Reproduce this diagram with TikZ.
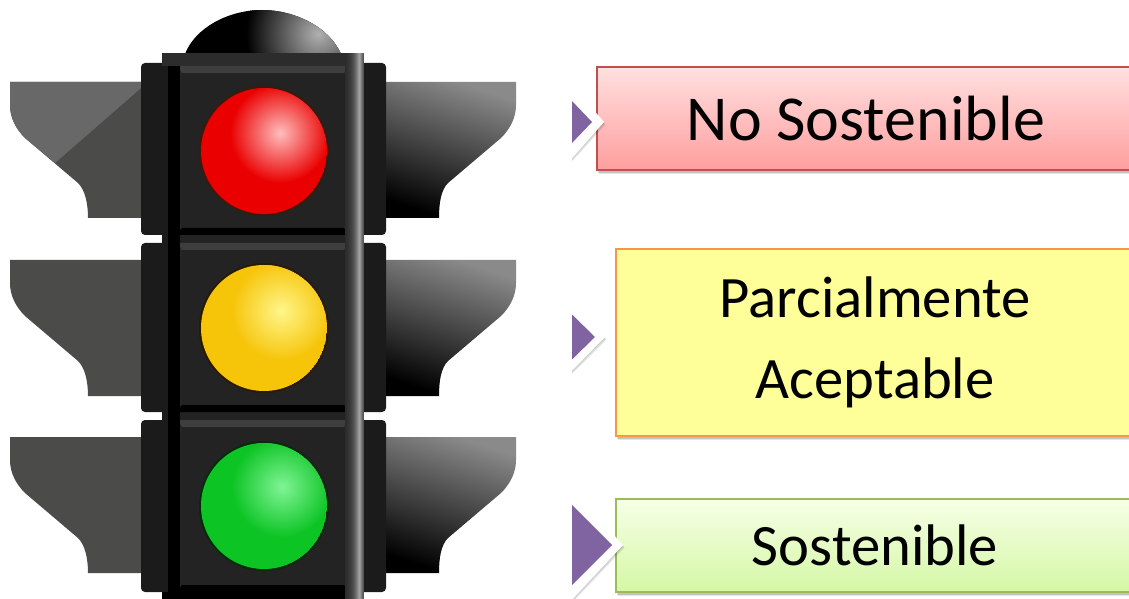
\documentclass[tikz,border=0pt]{standalone}
\usepackage{fontspec}
\setmainfont{Carlito}
\usetikzlibrary{shadows}
\definecolor{bodyc}{HTML}{232323}
\definecolor{barc}{HTML}{1B1B1B}
\definecolor{visorL}{HTML}{4B4B4A}
\definecolor{visorH}{HTML}{686868}
\definecolor{chev}{HTML}{8064A2}
\definecolor{C0504D}{HTML}{C0504D}
\definecolor{FFE0E0}{HTML}{FFE0E0}
\definecolor{FF9E9E}{HTML}{FF9E9E}
\definecolor{F79646}{HTML}{F79646}
\definecolor{FFFF99}{HTML}{FFFF99}
\definecolor{BBE59}{HTML}{9BBB59}
\definecolor{F6FFE6}{HTML}{F6FFE6}
\definecolor{D5F7A6}{HTML}{D5F7A6}
\definecolor{visorT}{HTML}{8A8A8A}
\definecolor{visorM}{HTML}{2C2C2C}
\tikzset{
  x=.75pt,y=-.75pt,
  softshadow/.style={
    drop shadow={shadow xshift=.6pt,shadow yshift=-1pt,opacity=.2,fill=black},
    drop shadow={shadow xshift=1.1pt,shadow yshift=-2pt,opacity=.15,fill=black},
    drop shadow={shadow xshift=1.6pt,shadow yshift=-3.2pt,opacity=.1,fill=black}},
  labelbox/.style={draw,line width=1.3pt,align=center,inner sep=0pt,softshadow},
  bigtext/.style={font=\fontsize{48}{60.75}\selectfont},
  smalltext/.style={font=\fontsize{44}{60.75}\selectfont},
  redbox/.style={labelbox,bigtext,draw=C0504D,top color=FFE0E0,bottom color=FF9E9E},
  yellowbox/.style={labelbox,smalltext,draw=F79646,fill=FFFF99},
  greenbox/.style={labelbox,smalltext,draw=BBE59,top color=F6FFE6,bottom color=D5F7A6},
  chevhalo/.style={fill=white},
  chevshade/.style={fill=black,opacity=.07},
  chevtri/.style={fill=chev},
  sidebar/.style={fill=barc,rounded corners=3pt},
}
\newcommand{\visorshapeL}[1]{(141,#1+82) -- (10,#1+82) -- (10,#1+105)
    .. controls (10,#1+118) and (16,#1+129) .. (25,#1+138)
    -- (78,#1+183) .. controls (85,#1+190) and (88,#1+203) .. (88,#1+218)
    -- (141,#1+218) -- cycle}
\newcommand{\visorshapeR}[1]{(386,#1+82) -- (516,#1+82) -- (516,#1+105)
    .. controls (516,#1+118) and (510,#1+129) .. (501,#1+138)
    -- (448,#1+183) .. controls (441,#1+190) and (439,#1+203) .. (439,#1+218)
    -- (386,#1+218) -- cycle}
\newcommand{\visorR}[1]{%
  \shade[top color=visorT,middle color=visorM,bottom color=black,shading angle=-18]
    \visorshapeR{#1};
}
\newcommand{\panel}[2]{% top, bottom
  \fill[black!85] (178,#1) rectangle (348,#2);
  \fill[bodyc] (182,#1+7) rectangle (345,#2-7);
  \fill[bevelc] (178,#1) -- (348,#1) -- (344,#1+7) -- (182,#1+7) -- cycle;
  \fill[black] (182,#2-7) -- (344,#2-7) -- (350,#2) -- (176,#2) -- cycle;
  \fill[black] (168,#1) rectangle (180,#2+8);
  \fill[barc] (162,#1) rectangle (168,#2+8);
}
\newcommand{\lamp}[7]{% cx cy base edge hi hx hy
  \fill[#4] (#1,#2) circle [radius=65];
  \begin{scope}
    \clip (#1,#2) circle [radius=63];
    \fill[#3] (#1,#2) circle [radius=63];
    \shade[inner color=#5,outer color=#3] (#6,#7) circle [radius=50];
  \end{scope}
}
\begin{document}
\begin{tikzpicture}
\definecolor{rb}{HTML}{EA0000}\definecolor{re}{HTML}{3A1A0A}\definecolor{rh}{HTML}{FFBDBD}
\definecolor{yb}{HTML}{F6C408}\definecolor{ye}{HTML}{2A1A00}\definecolor{yh}{HTML}{FFF68A}
\definecolor{gb}{HTML}{0DC425}\definecolor{ge}{HTML}{062A0A}\definecolor{gh}{HTML}{80F496}
\definecolor{stripa}{HTML}{2C2C2C}\definecolor{stripb}{HTML}{A0A0A0}\definecolor{stripc}{HTML}{555555}
\definecolor{bevelc}{HTML}{3E3E3E}\definecolor{domeh}{HTML}{B0B0B0}
\useasboundingbox (0,0) rectangle (1129,599);
\clip (0,0) rectangle (1129,599);
\fill[white] (0,0) rectangle (1129,599);

% visors
\fill[visorL] \visorshapeL{0};
\fill[visorH] (10,82) -- (141,82) -- (141,88) -- (55,163) -- (25,138)
   .. controls (16,129) and (10,118) .. (10,105) -- cycle;
\fill[visorL] \visorshapeL{178};
\fill[visorL] \visorshapeL{355};
\visorR{0}
\visorR{178}
\visorR{355}

% dome
\begin{scope}
  \clip (185,54) .. controls (195,28) and (228,10) .. (262,10) .. controls (296,10) and (330,28) .. (341,54) -- cycle;
  \fill[black] (180,5) rectangle (345,56);
  \shade[inner color=domeh,outer color=black] (318,34) circle [radius=72];
\end{scope}

% side bars
\fill[sidebar] (141,63) rectangle (170,235);
\fill[sidebar] (141,243) rectangle (170,412);
\fill[sidebar] (141,420) rectangle (170,592);
\fill[sidebar] (355,63) rectangle (386,235);
\fill[sidebar] (355,243) rectangle (386,412);
\fill[sidebar] (355,420) rectangle (386,592);

% column
\fill[bodyc] (162,53) rectangle (364,599);
\fill[stripa] (162,53) rectangle (364,66);
\panel{66}{235}
\panel{243}{412}
\panel{420}{592}
\fill[black] (162,592) rectangle (348,599);
\foreach \xx/\pp in {345/0,346/2,347/4,348/7,349/10,350/14,351/19,352/25,353/32,354/40,355/50,356/62,357/76,358/90,359/100,360/90,361/70,362/50,363/35}{
  \fill[stripb!\pp!stripa] (\xx,53) rectangle (\xx+1.2,599);
}
\fill[white,opacity=.85] (141,239) rectangle (161,241);
\fill[white,opacity=.85] (365,239) rectangle (386,241);
\fill[white,opacity=.85] (141,416) rectangle (161,418);
\fill[white,opacity=.85] (365,416) rectangle (386,418);

% lamps
\lamp{264}{151}{rb}{re}{rh}{280}{133}
\lamp{264}{328}{yb}{ye}{yh}{281}{311}
\lamp{264}{506}{gb}{ge}{gh}{282}{487}

% label boxes
\node[redbox,minimum width=538*.75pt,minimum height=103*.75pt] (nosost) at (866,118.5) {No Sostenible};
\node[yellowbox,minimum width=518*.75pt,minimum height=187*.75pt] (parcial) at (875,342.5) {Parcialmente\\Aceptable};
\node[greenbox,minimum width=518*.75pt,minimum height=93*.75pt] (sost) at (875,545.5) {Sostenible};

% chevrons
\begin{scope}
\clip (572,0) rectangle (1129,599);
\foreach \d in {1,2,3}{
  \fill[chevshade] (560,72+\d) -- (604+\d/2,122+\d) -- (560,172+\d) -- cycle;
  \fill[chevshade] (560,291+\d) -- (605+\d/2,337+\d) -- (560,383+\d) -- cycle;
  \fill[chevshade] (555,472+\d) -- (623+\d/2,545+\d) -- (555,618+\d) -- cycle;
}
\fill[chevhalo] (560,72) -- (604,122) -- (560,172) -- cycle;
\fill[chevtri] (550,78) -- (592,122) -- (550,166) -- cycle;
\fill[chevhalo] (560,291) -- (605,337) -- (560,383) -- cycle;
\fill[chevtri] (550,293) -- (595,337) -- (550,381) -- cycle;
\fill[chevhalo] (555,472) -- (623,545) -- (555,618) -- cycle;
\fill[chevtri] (532,465) -- (612,545) -- (532,625) -- cycle;
\end{scope}
\end{tikzpicture}
\end{document}
